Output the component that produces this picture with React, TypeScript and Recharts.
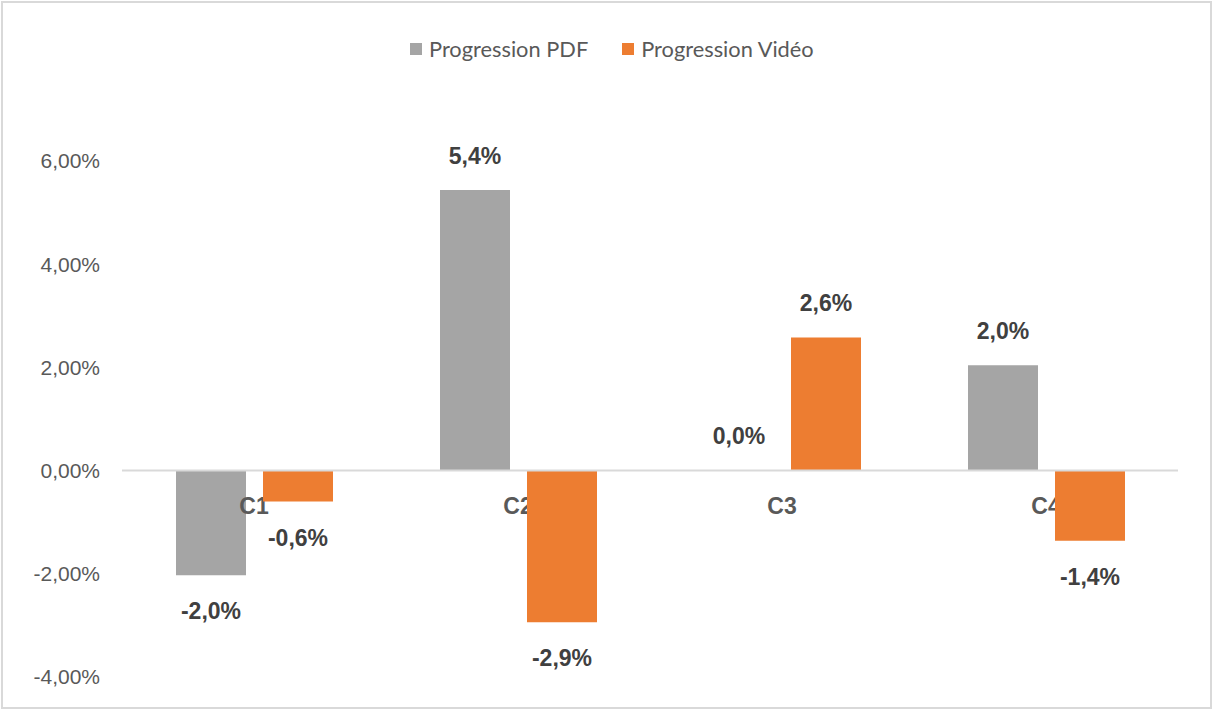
import React from "react";
import { BarChart, Bar, XAxis, YAxis, ReferenceLine, ReferenceDot, LabelList } from "recharts";

const categories = ["C1", "C2", "C3", "C4"];
const pdfValues = [-2.03, 5.44, 0.01, 2.04];
const videoValues = [-0.6, -2.94, 2.58, -1.36];
const yTicks = [-4, -2, 0, 2, 4, 6];
const seriesNames = ["Progression PDF", "Progression Vidéo"];
const seriesColors = ["#a5a5a5", "#ed7d31"];

const data = categories.map((c, i) => ({ cat: c, pdf: pdfValues[i], video: videoValues[i] }));

const fmtTick = (v: number) => v.toFixed(2).replace(".", ",") + "%";
const fmtLabel = (v: number) => {
  const s = (Math.round(v * 10) / 10).toFixed(1).replace(".", ",");
  return (s === "-0,0" ? "0,0" : s) + "%";
};

const DataLabel = (props: any) => {
  const { x, y, width, height, value } = props;
  const h = height || 0;
  const top = Math.min(y, y + h);
  const bottom = Math.max(y, y + h);
  const cx = x + width / 2;
  const ty = value < 0 ? bottom + 36 : top - 34;
  return (
    <text
      x={cx}
      y={ty}
      textAnchor="middle"
      dominantBaseline="central"
      fontFamily="'Liberation Sans', Arial, sans-serif"
      fontWeight="bold"
      fontSize={23}
      fill="#404040"
    >
      {fmtLabel(value)}
    </text>
  );
};

const CatLabel = (cat: string) => (props: any) => {
  const vb = props.viewBox || {};
  const cx = (vb.x ?? 0) + (vb.width ?? 0) / 2;
  const cy = (vb.y ?? 0) + (vb.height ?? 0) / 2;
  return (
    <text
      x={cx}
      y={cy + 35}
      textAnchor="middle"
      dominantBaseline="central"
      fontFamily="'Liberation Sans', Arial, sans-serif"
      fontWeight="bold"
      fontSize={23}
      fill="#595959"
    >
      {cat}
    </text>
  );
};

export default function App() {
  return (
    <div style={{ position: "absolute", left: 0, top: 0, width: 1213, height: 711, background: "#fff" }}>
      <div
        style={{
          position: "absolute",
          left: 1,
          top: 1,
          width: 1211,
          height: 708,
          border: "2px solid #d9d9d9",
          boxSizing: "border-box",
        }}
      />
      <div
        style={{
          position: "absolute",
          left: 410,
          top: 35,
          display: "flex",
          alignItems: "center",
          fontFamily: "Lato, 'Open Sans', sans-serif",
          fontSize: 21.8,
          color: "#595959",
          whiteSpace: "nowrap",
        }}
      >
        {seriesNames.map((n, i) => (
          <div key={n} style={{ display: "flex", alignItems: "center", marginRight: i === 0 ? 34 : 0 }}>
            <span style={{ display: "inline-block", width: 12, height: 12, background: seriesColors[i], marginRight: 7 }} />
            <span>{n}</span>
          </div>
        ))}
      </div>
      <div style={{ position: "absolute", left: 0, top: 0 }}>
        <BarChart
          width={1213}
          height={711}
          data={data}
          margin={{ top: 161, right: 35, bottom: 34, left: 0 }}
          barGap={17}
          barSize={70}
        >
          <XAxis dataKey="cat" hide height={0} />
          <YAxis
            domain={[-4, 6]}
            ticks={yTicks}
            tickFormatter={fmtTick}
            axisLine={false}
            tickLine={false}
            tickSize={0}
            tickMargin={22}
            width={122}
            interval={0}
            tick={{ fontFamily: "'Liberation Sans', Arial, sans-serif", fontSize: 21, fill: "#595959" }}
          />
          <Bar dataKey="pdf" fill={seriesColors[0]} isAnimationActive={false} zIndex={290}>
            <LabelList dataKey="pdf" content={DataLabel} />
          </Bar>
          {categories.map((c) => (
            <ReferenceDot
              key={c}
              x={c}
              y={0}
              r={0}
              fill="none"
              stroke="none"
              zIndex={295}
              label={{ content: CatLabel(c) } as any}
            />
          ))}
          <Bar dataKey="video" fill={seriesColors[1]} isAnimationActive={false} zIndex={300}>
            <LabelList dataKey="video" content={DataLabel} />
          </Bar>
          <ReferenceLine y={0} stroke="#d9d9d9" strokeWidth={2} zIndex={310} />
        </BarChart>
      </div>
    </div>
  );
}
